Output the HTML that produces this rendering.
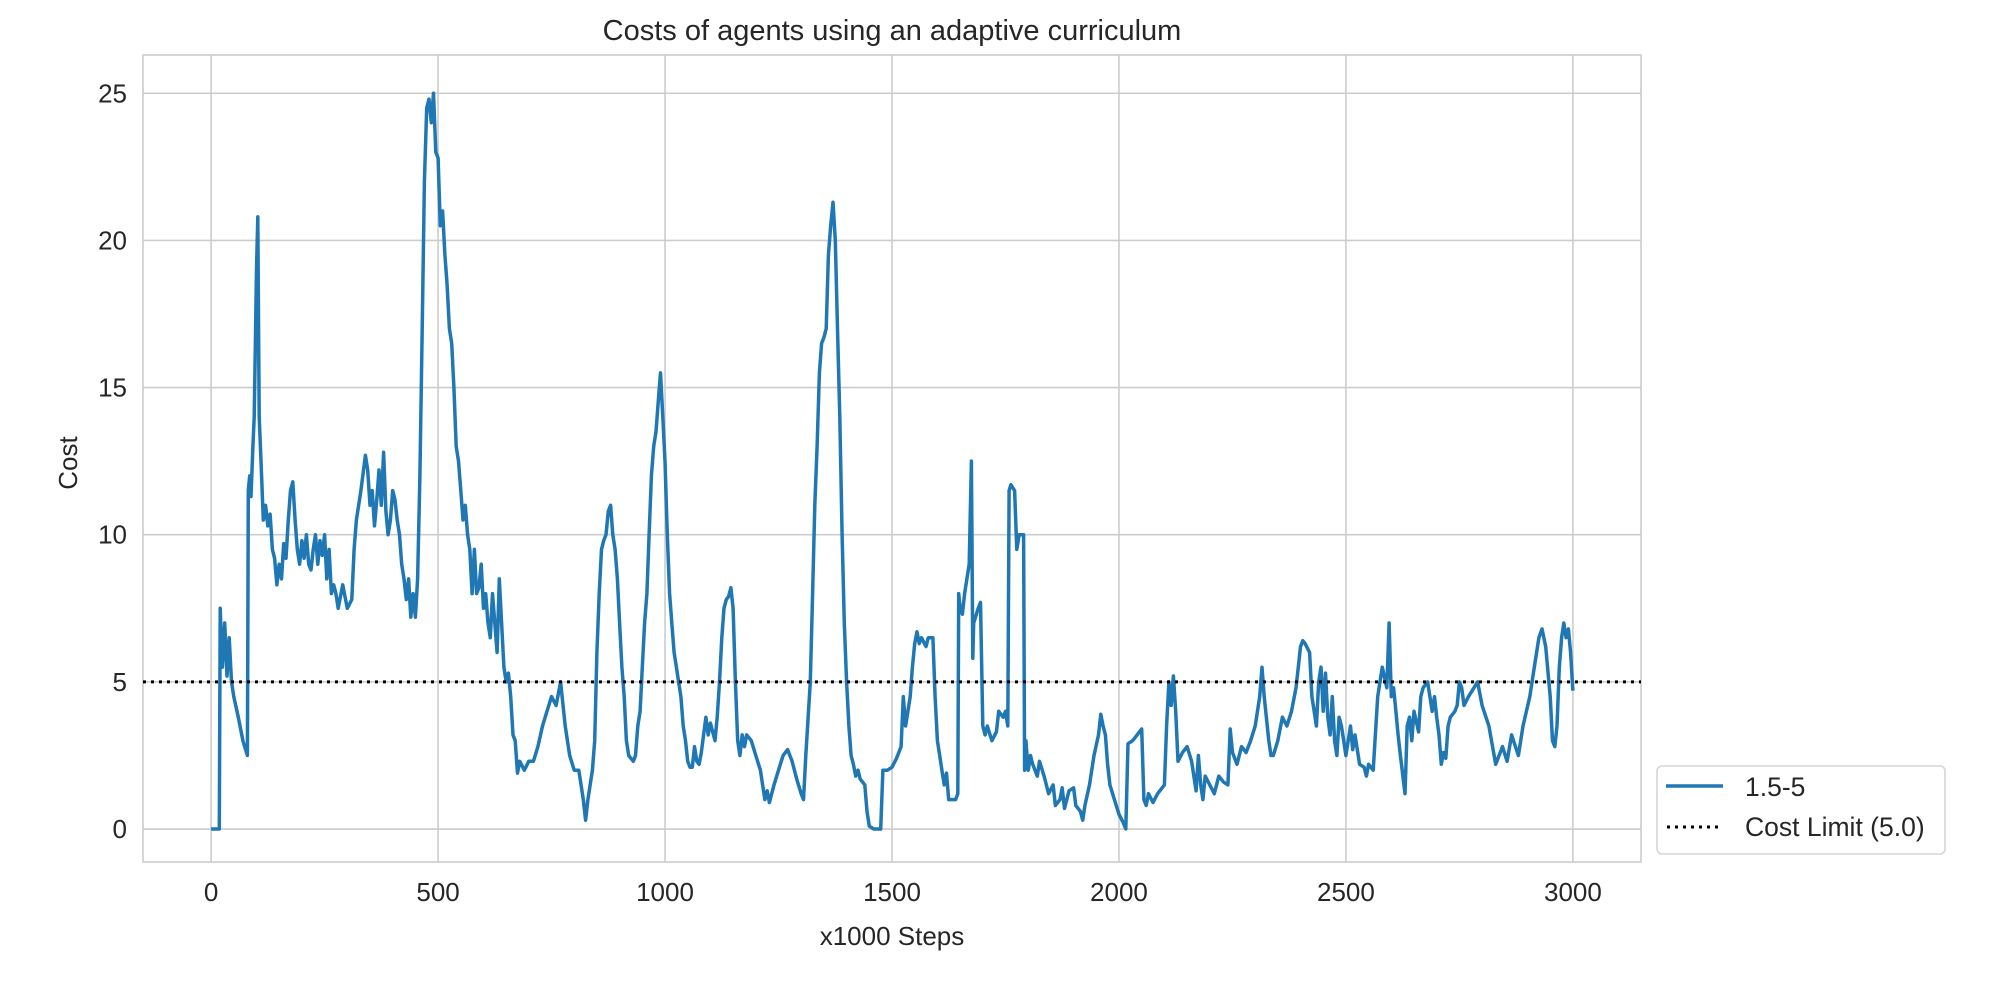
<!DOCTYPE html>
<html><head><meta charset="utf-8"><style>
html,body{margin:0;padding:0;background:#fff;}
svg{display:block;font-family:"Liberation Sans",Arial,sans-serif;}
</style></head><body>
<svg id="chart" width="2000" height="1000"></svg>
<script>
const steps=[0,15,18,20,25,30,35,40,45,50,60,70,80,82,85,88,92,95,98,100,103,106,110,115,120,125,130,135,140,145,150,155,160,165,170,175,180,185,190,195,200,205,210,215,220,225,230,235,240,245,250,255,260,265,270,275,280,290,300,310,315,320,330,340,345,350,355,360,365,370,375,380,385,390,395,400,405,410,415,420,425,430,435,440,445,450,455,460,465,470,475,480,485,490,495,500,505,510,515,520,525,530,535,540,545,550,555,560,565,570,575,580,585,590,595,600,605,610,615,620,625,630,635,640,645,650,655,660,665,670,675,680,690,700,710,720,730,740,750,760,770,780,790,800,810,820,825,830,840,845,850,855,860,865,870,875,880,885,890,895,900,905,910,915,920,925,930,935,940,945,950,955,960,965,970,975,980,985,990,995,1000,1005,1010,1015,1020,1025,1030,1035,1040,1045,1050,1055,1060,1065,1070,1075,1080,1085,1090,1095,1100,1110,1115,1120,1125,1130,1135,1140,1145,1150,1155,1160,1165,1170,1175,1180,1190,1200,1210,1215,1220,1225,1230,1240,1250,1260,1270,1280,1290,1300,1305,1310,1320,1325,1330,1335,1340,1345,1350,1355,1360,1365,1370,1375,1380,1385,1390,1395,1400,1405,1410,1415,1420,1425,1430,1440,1445,1450,1460,1475,1480,1490,1500,1510,1520,1525,1530,1535,1540,1545,1550,1555,1560,1565,1575,1580,1590,1595,1600,1605,1610,1615,1620,1625,1640,1645,1647,1650,1655,1660,1665,1670,1675,1678,1680,1690,1695,1700,1705,1710,1720,1730,1735,1745,1750,1755,1758,1762,1770,1775,1780,1790,1792,1795,1800,1805,1810,1820,1825,1835,1845,1855,1860,1870,1875,1880,1890,1900,1905,1915,1920,1925,1935,1945,1955,1960,1965,1970,1975,1980,1990,2000,2010,2015,2020,2030,2040,2050,2055,2060,2065,2075,2085,2100,2105,2110,2115,2120,2125,2130,2140,2150,2160,2170,2175,2180,2185,2190,2200,2210,2220,2230,2240,2245,2250,2260,2270,2280,2290,2300,2310,2315,2320,2330,2335,2340,2350,2360,2370,2380,2390,2395,2400,2405,2410,2420,2425,2430,2435,2440,2445,2450,2455,2460,2465,2470,2475,2480,2485,2490,2495,2500,2510,2515,2520,2530,2540,2545,2550,2560,2570,2575,2580,2590,2595,2600,2605,2610,2615,2620,2630,2635,2640,2645,2650,2660,2665,2670,2680,2690,2695,2700,2705,2710,2715,2720,2725,2730,2740,2745,2750,2755,2760,2770,2790,2800,2815,2830,2845,2855,2865,2880,2890,2905,2915,2925,2932,2940,2950,2955,2960,2965,2970,2975,2980,2985,2990,2995,3000];
const costs=[0,0,0,7.5,5.5,7,5.2,6.5,5,4.5,3.8,3,2.5,11.5,12,11.3,13,14,17,19,20.8,14,12.5,10.5,11,10.3,10.7,9.5,9.2,8.3,9,8.5,9.7,9.2,10.5,11.5,11.8,10.5,9.5,9,9.8,9.2,10,9,8.8,9.5,10,9,9.8,9.3,10,8.5,9.5,8,8.3,8,7.5,8.3,7.5,7.8,9.5,10.5,11.5,12.7,12.2,11,11.5,10.3,11.2,12.2,11,12.8,10.8,10,10.5,11.5,11.2,10.5,10,9,8.5,7.8,8.5,7.2,8,7.2,8.5,12,17,22,24.5,24.8,24,25,23,22.8,20.5,21,19.5,18.5,17,16.5,15,13,12.5,11.5,10.5,11,10,9.5,8,9.5,8,8.2,9,7.5,8,7,6.5,8,7,6,8.5,7,5.5,5,5.3,4.5,3.2,3,1.9,2.3,2,2.3,2.3,2.8,3.5,4,4.5,4.2,5,3.5,2.5,2,2,1,0.3,1,2,3,6,8,9.5,9.8,10,10.8,11,10,9.5,8.5,7,5.5,4.5,3,2.5,2.4,2.3,2.5,3.5,4,5.5,7,8,10,12,13,13.5,14.5,15.5,14,12.5,10,8,7,6,5.5,5,4.5,3.5,3,2.3,2.1,2.1,2.8,2.3,2.2,2.6,3.2,3.8,3.2,3.6,3,3.8,5,6.5,7.5,7.8,7.9,8.2,7.5,5,3,2.5,3.2,2.8,3.2,3,2.5,2,1.5,1,1.3,0.9,1.5,2,2.5,2.7,2.3,1.7,1.2,1,2.5,5,8,11,13,15.5,16.5,16.7,17,19.5,20.5,21.3,20,17,14,10,7,5,3.5,2.5,2.2,1.8,2,1.7,1.5,0.6,0.1,0,0,2,2,2.1,2.4,2.8,4.5,3.5,4,4.5,5.5,6.3,6.7,6.3,6.5,6.2,6.5,6.5,4.5,3,2.5,2,1.5,1.9,1,1,1.2,8,7.5,7.3,8,8.5,9,12.5,5.8,7,7.5,7.7,3.5,3.2,3.5,3,3.3,4,3.8,4,3.5,11.5,11.7,11.5,9.5,10,10,2,3,2,2.5,2.2,1.8,2.3,1.8,1.2,1.5,0.8,1,1.4,0.7,1.3,1.4,0.8,0.6,0.3,0.8,1.5,2.5,3.2,3.9,3.5,3.2,2.2,1.5,1,0.5,0.2,0,2.9,3,3.2,3.4,1,0.8,1.2,0.9,1.2,1.5,3.5,5,4.2,5.2,4,2.3,2.6,2.8,2.3,1.3,2.5,1.5,1,1.8,1.5,1.2,1.8,1.6,1.5,3.4,2.6,2.2,2.8,2.6,3,3.5,4.5,5.5,4.5,3,2.5,2.5,3,3.8,3.5,4,4.8,5.5,6.2,6.4,6.3,6,4.5,4,3.5,5,5.5,4,5.3,3.8,3.2,4.5,3,2.5,3.8,3.5,3,2.5,3.5,2.7,3.2,2.2,2.1,1.8,2.2,2,4.5,5,5.5,4.8,7,4.5,4.8,4,3.2,2.5,1.2,3.5,3.8,3,4,3.3,4.5,4.8,5,4,4.5,3.8,3.2,2.2,2.6,2.4,3.5,3.8,4,4.2,5,4.8,4.2,4.5,5,4.2,3.5,2.2,2.8,2.3,3.2,2.5,3.5,4.5,5.5,6.5,6.8,6.2,4.5,3,2.8,3.5,5.5,6.5,7,6.5,6.8,6,4.7];
const xTicks=[0,500,1000,1500,2000,2500,3000];
const yTicks=[0,5,10,15,20,25];
const costLimit=[5.0];
const NS="http://www.w3.org/2000/svg";
const svg=document.getElementById('chart');
const L=143,R=1641,T=55,B=862,XMIN=-150,XMAX=3150,YMIN=-1.12,YMAX=26.3;
const sx=v=>L+(v-XMIN)/(XMAX-XMIN)*(R-L);
const sy=v=>B-(v-YMIN)/(YMAX-YMIN)*(B-T);
function mk(tag,attrs,text){const e=document.createElementNS(NS,tag);for(const k in attrs)e.setAttribute(k,attrs[k]);if(text!==undefined)e.textContent=text;svg.appendChild(e);return e;}
const bg=mk('rect',{x:L,y:T,width:R-L,height:B-T,fill:'#fff'});


xTicks.forEach(t=>{
  const g=mk('line',{x1:sx(t),x2:sx(t),y1:T,y2:B,stroke:'#cccccc','stroke-width':1.6});
  
  
  const lb=mk('text',{x:sx(t),y:901,'text-anchor':'middle','font-size':26,fill:'#262626'},String(t));
  
  
});
yTicks.forEach(t=>{
  const g=mk('line',{x1:L,x2:R,y1:sy(t),y2:sy(t),stroke:'#cccccc','stroke-width':1.6});
  
  
  const lb=mk('text',{x:127,y:sy(t)+9,'text-anchor':'end','font-size':26,fill:'#262626'},String(t));
  
  
});
const frame=mk('rect',{x:L,y:T,width:R-L,height:B-T,fill:'none',stroke:'#cccccc','stroke-width':1.6});


const d=steps.map((s,i)=>(i?'L':'M')+sx(s).toFixed(1)+','+sy(costs[i]).toFixed(1)).join('');
const line=mk('path',{d:d,fill:'none',stroke:'#1f77b4','stroke-width':3.5,'stroke-linejoin':'round'});


const lim=mk('line',{x1:L,x2:R,y1:sy(costLimit[0]),y2:sy(costLimit[0]),stroke:'#000','stroke-width':3,'stroke-dasharray':'3,5'});


</script>
<svg width="2000" height="1000" style="position:absolute;left:0;top:0">
<text x="892" y="40" text-anchor="middle" font-size="29" fill="#262626" font-family="Liberation Sans, sans-serif">Costs of agents using an adaptive curriculum</text>
<text x="892" y="945" text-anchor="middle" font-size="26" fill="#262626" font-family="Liberation Sans, sans-serif">x1000 Steps</text>
<text transform="translate(77,463) rotate(-90)" text-anchor="middle" font-size="26" fill="#262626" font-family="Liberation Sans, sans-serif">Cost</text>
<g>
<rect x="1657" y="766" width="288" height="88" rx="5" fill="#fff" stroke="#d6d6d6" stroke-width="1.6"/>
<line x1="1666" x2="1723" y1="786" y2="786" stroke="#1f77b4" stroke-width="3.5"/>
<text x="1745" y="796" font-size="26.5" fill="#262626" font-family="Liberation Sans, sans-serif">1.5-5</text>
<line x1="1667" x2="1723" y1="827" y2="827" stroke="#000" stroke-width="3" stroke-dasharray="3,5"/>
<text x="1745" y="836" font-size="26.5" fill="#262626" font-family="Liberation Sans, sans-serif">Cost Limit (5.0)</text>
</g>
</svg>
</body></html>
